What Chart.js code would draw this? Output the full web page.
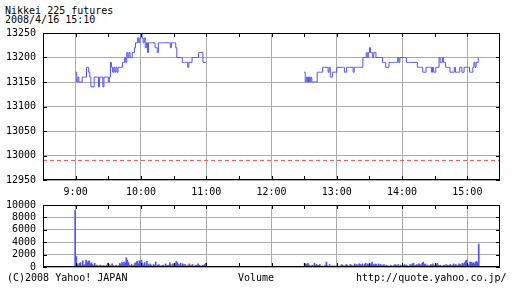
<!DOCTYPE html>
<html>
<head>
<meta charset="utf-8">
<script src="https://cdn.jsdelivr.net/npm/chart.js@4"></script>
<style>
  body { margin: 0; width: 512px; height: 288px; background: #fff; position: relative; overflow: hidden; }
  .txt { position: absolute; font: 10px "DejaVu Sans Mono", monospace; line-height: 10px; color: #000; white-space: pre; }
  canvas { position: absolute; left: 0; }
</style>
</head>
<body>
<div class="txt" style="left:5px;top:6px">Nikkei 225 futures</div>
<div class="txt" style="left:5px;top:15px">2008/4/16 15:10</div>
<canvas id="priceChart" width="512" height="200" style="top:0"></canvas>
<canvas id="volChart" width="512" height="92" style="top:196px"></canvas>
<div class="txt" style="left:7px;top:273px">(C)2008 Yahoo! JAPAN</div>
<div class="txt" style="left:238px;top:273px">Volume</div>
<div class="txt" style="left:356px;top:273px">http://quote.yahoo.co.jp/</div>
<script>
// minutes counted from 8:30
const hourTicks = [30, 90, 150, 210, 270, 330, 390];
const morningStart = 30;   // 9:00
const afternoonStart = 240; // 12:30
const prevClose = 12990;

// one value per minute, 9:00 - 11:00
const morningPrice = [
  13170, 13150, 13160, 13150, 13150, 13150, 13160, 13160, 13160, 13160,
  13180, 13180, 13170, 13160, 13140, 13140, 13140, 13160, 13160, 13160,
  13160, 13140, 13160, 13160, 13160, 13140, 13160, 13160, 13160, 13160,
  13150, 13160, 13190, 13180, 13170, 13180, 13170, 13180, 13170, 13180,
  13180, 13180, 13180, 13190, 13190, 13200, 13190, 13210, 13200, 13210,
  13200, 13200, 13210, 13210, 13220, 13230, 13230, 13240, 13230, 13240,
  13250, 13240, 13230, 13240, 13220, 13230, 13210, 13230, 13230, 13230,
  13230, 13230, 13230, 13220, 13220, 13210, 13230, 13230, 13230, 13230,
  13230, 13230, 13230, 13230, 13230, 13230, 13230, 13220, 13230, 13230,
  13230, 13230, 13220, 13200, 13200, 13200, 13200, 13200, 13190, 13190,
  13190, 13190, 13190, 13180, 13190, 13190, 13190, 13200, 13200, 13200,
  13200, 13200, 13200, 13210, 13210, 13210, 13210, 13190, 13190, 13190,
  13190
];
// one value per minute, 12:30 - 15:10
const afternoonPrice = [
  13170, 13150, 13160, 13150, 13160, 13150, 13160, 13150, 13150, 13150,
  13150, 13150, 13170, 13170, 13170, 13170, 13170, 13180, 13180, 13180,
  13180, 13180, 13170, 13180, 13160, 13160, 13170, 13170, 13170, 13170,
  13180, 13180, 13180, 13180, 13180, 13180, 13180, 13170, 13170, 13180,
  13180, 13180, 13180, 13180, 13180, 13170, 13180, 13180, 13180, 13180,
  13180, 13180, 13180, 13180, 13200, 13200, 13200, 13210, 13200, 13210,
  13220, 13210, 13210, 13200, 13210, 13210, 13200, 13200, 13200, 13200,
  13200, 13200, 13190, 13190, 13190, 13180, 13180, 13180, 13190, 13190,
  13190, 13190, 13190, 13190, 13190, 13190, 13200, 13190, 13200, 13200,
  13200, 13200, 13200, 13200, 13190, 13190, 13190, 13190, 13190, 13190,
  13190, 13190, 13190, 13190, 13180, 13180, 13180, 13180, 13180, 13170,
  13170, 13170, 13180, 13180, 13180, 13180, 13180, 13170, 13180, 13170,
  13170, 13180, 13180, 13180, 13200, 13190, 13190, 13200, 13190, 13190,
  13180, 13180, 13180, 13180, 13170, 13170, 13170, 13170, 13180, 13170,
  13170, 13170, 13170, 13180, 13180, 13170, 13170, 13180, 13180, 13180,
  13180, 13180, 13170, 13170, 13170, 13180, 13190, 13180, 13190, 13190,
  13200
];

const morningVolume = [
  9100, 1700, 500, 300, 600, 700, 200, 1000, 300, 400,
  1100, 700, 900, 1000, 500, 700, 400, 300, 600, 250,
  300, 200, 150, 300, 200, 150, 250, 200, 100, 300,
  600, 400, 300, 200, 500, 250, 150, 200, 300, 100,
  200, 600, 400, 700, 500, 800, 600, 1500, 1100, 700,
  300, 200, 400, 100, 300, 600, 700, 900, 500, 1000,
  800, 1100, 600, 300, 700, 200, 900, 400, 200, 500,
  300, 100, 400, 300, 800, 200, 300, 400, 150, 200,
  250, 300, 100, 500, 300, 200, 300, 700, 400, 200,
  500, 300, 600, 900, 700, 400, 300, 600, 200, 500,
  300, 400, 200, 100, 300, 500, 200, 300, 400, 100,
  200, 300, 200, 500, 300, 200, 100, 300, 200, 400,
  600
];
const afternoonVolume = [
  600, 500, 400, 600, 300, 200, 150, 300, 200, 600,
  300, 400, 200, 300, 400, 100, 200, 100, 150, 300,
  800, 200, 100, 400, 100, 150, 200, 100, 150, 100,
  150, 100, 100, 200, 400, 300, 100, 200, 400, 300,
  100, 200, 400, 300, 150, 200, 500, 300, 400, 200,
  500, 400, 300, 500, 200, 400, 600, 300, 500, 400,
  300, 500, 800, 400, 300, 500, 400, 200, 500, 300,
  400, 200, 300, 400, 100, 300, 200, 150, 100, 300,
  200, 100, 250, 400, 300, 200, 400, 100, 300, 200,
  100, 300, 400, 200, 300, 100, 200, 400, 300, 500,
  600, 300, 200, 400, 300, 500, 400, 300, 600, 800,
  400, 500, 200, 300, 100, 200, 400, 300, 500, 200,
  300, 400, 600, 300, 200, 300, 100, 200, 300, 200,
  400, 300, 200, 300, 400, 200, 300, 500, 300, 400,
  200, 300, 500, 400, 300, 600, 500, 700, 1000, 1100,
  400, 300, 800, 800, 600, 700, 500, 800, 900, 700,
  3700
];

const BLUE = '#5252ff';
const GRID = '#ababab';
const FONT = { family: '"DejaVu Sans Mono", monospace', size: 10 };

function toPoints(start, values) {
  return values.map((v, i) => ({ x: start + i, y: v }));
}

function timeLabel(min) {
  const h = Math.floor((min + 510) / 60);
  const m = (min + 510) % 60;
  return h + ':' + String(m).padStart(2, '0');
}

// black frame with short inward ticks, like the old quote images
const framePlugin = {
  id: 'frame',
  afterDraw(chart) {
    const { ctx, chartArea: a, scales } = chart;
    ctx.save();
    ctx.strokeStyle = '#000';
    ctx.lineWidth = 1;
    ctx.strokeRect(a.left + 0.5, a.top + 0.5, a.right - a.left - 1, a.bottom - a.top - 1);
    ctx.beginPath();
    for (let t = 30; t < 420; t += 30) {
      const x = Math.round(scales.x.getPixelForValue(t)) + 0.5;
      ctx.moveTo(x, a.top); ctx.lineTo(x, a.top + 4);
      ctx.moveTo(x, a.bottom); ctx.lineTo(x, a.bottom - 4);
    }
    scales.y.ticks.forEach(tk => {
      const y = Math.round(scales.y.getPixelForValue(tk.value)) + 0.5;
      ctx.moveTo(a.left, y); ctx.lineTo(a.left + 4, y);
      ctx.moveTo(a.right, y); ctx.lineTo(a.right - 4, y);
    });
    ctx.stroke();
    ctx.restore();
  }
};

new Chart(document.getElementById('priceChart'), {
  type: 'line',
  data: {
    datasets: [
      { data: toPoints(morningStart, morningPrice), borderColor: BLUE, borderWidth: 1, stepped: true, pointRadius: 0 },
      { data: toPoints(afternoonStart, afternoonPrice), borderColor: BLUE, borderWidth: 1, stepped: true, pointRadius: 0 },
      { data: [{ x: 0, y: prevClose }, { x: 420, y: prevClose }], borderColor: '#ff4c4c', borderWidth: 1, borderDash: [4, 3], pointRadius: 0 }
    ]
  },
  options: {
    responsive: false,
    animation: false,
    layout: { padding: { top: 33, right: 12, left: 0, bottom: 0 } },
    plugins: { legend: { display: false }, tooltip: { enabled: false } },
    scales: {
      x: {
        type: 'linear', min: 0, max: 420,
        afterBuildTicks: s => { s.ticks = hourTicks.map(v => ({ value: v })); },
        afterFit: s => { s.height = 20; },
        grid: { color: GRID, drawTicks: false },
        border: { display: false },
        ticks: { color: '#000', font: FONT, padding: 6, maxRotation: 0, autoSkip: false, callback: v => timeLabel(v) }
      },
      y: {
        min: 12950, max: 13250,
        afterFit: s => { s.width = 43; },
        grid: { color: GRID, drawTicks: false },
        border: { display: false },
        ticks: { stepSize: 50, color: '#000', font: FONT, padding: 7, autoSkip: false, callback: v => String(v) }
      }
    }
  },
  plugins: [framePlugin]
});

new Chart(document.getElementById('volChart'), {
  type: 'bar',
  data: {
    datasets: [
      { data: toPoints(morningStart, morningVolume), backgroundColor: BLUE, barThickness: 1 },
      { data: toPoints(afternoonStart, afternoonVolume), backgroundColor: BLUE, barThickness: 1 }
    ]
  },
  options: {
    responsive: false,
    animation: false,
    layout: { padding: { top: 9, right: 12, left: 0, bottom: 21 } },
    plugins: { legend: { display: false }, tooltip: { enabled: false } },
    scales: {
      x: {
        type: 'linear', min: 0, max: 420, offset: false,
        afterBuildTicks: s => { s.ticks = hourTicks.map(v => ({ value: v })); },
        afterFit: s => { s.height = 0; },
        grid: { color: GRID, drawTicks: false, offset: false },
        border: { display: false },
        ticks: { display: false }
      },
      y: {
        min: 0, max: 10000,
        afterFit: s => { s.width = 43; s.paddingTop = 0; s.paddingBottom = 0; },
        grid: { color: GRID, drawTicks: false },
        border: { display: false },
        ticks: { stepSize: 2000, color: '#000', font: FONT, padding: 7, autoSkip: false, callback: v => String(v) }
      }
    }
  },
  plugins: [framePlugin]
});
</script>
</body>
</html>
